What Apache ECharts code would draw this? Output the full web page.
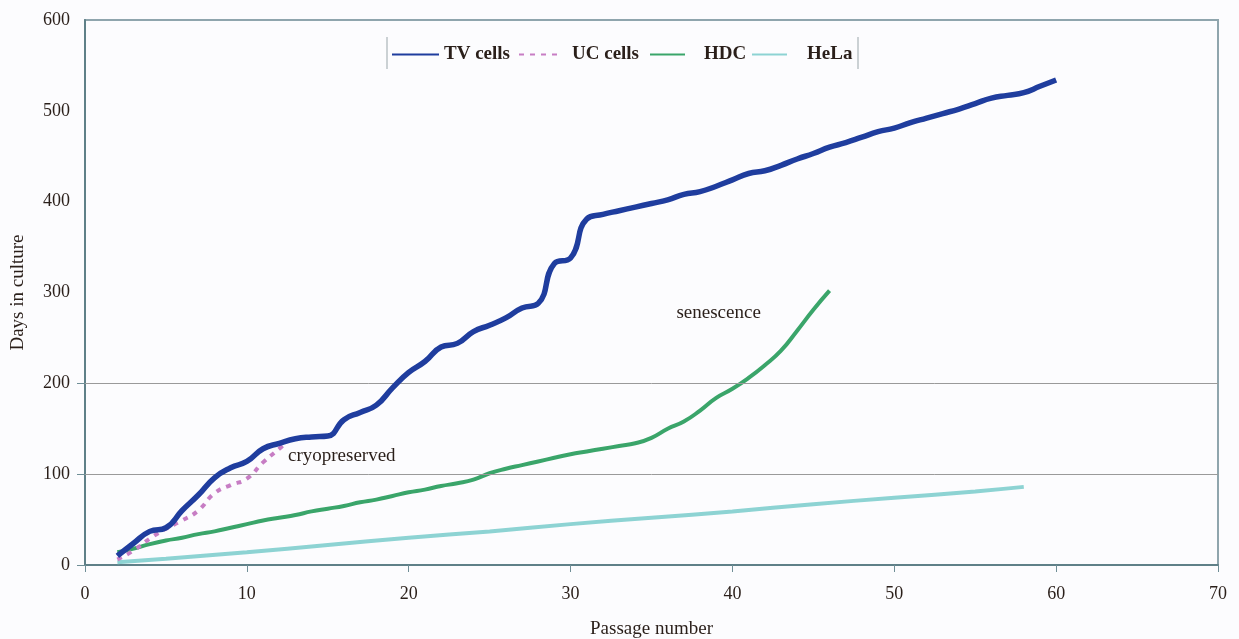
<!DOCTYPE html>
<html>
<head>
<meta charset="utf-8">
<script src="https://cdn.jsdelivr.net/npm/echarts@6/dist/echarts.min.js"></script>
<style>
html,body{margin:0;padding:0;background:#fcfcfe;}
#chart{width:1239px;height:639px;}
</style>
</head>
<body>
<div id="chart"></div>
<script>
const tvPassage = [2,3,4,5,6,7,8,9,10,11,12,13,14,15,16,17,18,19,20,21,22,23,24,25,26,27,28,29,30,31,32,33,34,35,36,37,38,39,40,41,42,43,44,45,46,47,48,49,50,51,52,53,54,55,56,57,58,59,60];
const tvDays = [10,24,37,41,60,77,96,107,114,128,134,139,141,142,160,168,176,195,212,224,240,244,257,264,272,283,288,332,338,381,386,390,394,398,402,408,411,417,424,431,434,440,447,453,460,465,471,477,481,487,492,497,502,508,514,517,520,527,534];
const ucPassage = [2,3,4,5,6,7,8,9,10,11,12,12.3];
const ucDays = [6,16,29,40,49,60,79,88,95,113,128,133];
const hdcPassage = [2,3,4,5,6,7,8,9,10,11,12,13,14,15,16,17,18,19,20,21,22,23,24,25,26,27,28,29,30,31,32,33,34,35,36,37,38,39,40,41,42,43,44,45,46];
const hdcDays = [14,18,23,27,30,34,37,41,45,49,52,55,59,62,65,69,72,76,80,83,87,90,94,101,106,110,114,118,122,125,128,131,134,140,150,158,170,184,194,206,220,236,258,281,302];
const helaPassage = [2,5,10,15,20,25,30,35,40,45,50,55,58];
const helaDays = [3,7,14,22,30,37,45,52,59,67,74,81,86];
const xTicks = [0,10,20,30,40,50,60,70];
const yTicks = [0,100,200,300,400,500,600];
const gridDays = [100,200];
const seriesNames = ['TV cells','UC cells','HDC','HeLa'];

const pair = (xs, ys) => xs.map((x,i)=>[x, ys[i]]);
const serif = '"Liberation Serif","DejaVu Serif",serif';
const txt = '#2a1f1a';

const legendLayout = [
  {left:386, width:47, pad:5},
  {left:513, width:41, pad:12},
  {left:644, width:35, pad:19},
  {left:746, width:35, pad:20}
];
const legends = seriesNames.map((n,i)=>({
  top:40, left:legendLayout[i].left, itemWidth:legendLayout[i].width, itemHeight:6,
  selectedMode:false,
  textStyle:{fontFamily:serif,fontSize:19,color:txt,fontWeight:'bold',padding:[0,0,0,legendLayout[i].pad-5]},
  data:[{name:n,itemStyle:{opacity:0}}]
}));

const chart = echarts.init(document.getElementById('chart'));
chart.setOption({
  backgroundColor:'#fcfcfe',
  animation:false,
  grid:{left:85,right:21,top:20,bottom:74,outerBoundsMode:'none',containLabel:false,show:true,borderColor:'#8fa5ad',borderWidth:2,backgroundColor:'transparent'},
  legend:legends,
  xAxis:{
    type:'value',min:xTicks[0],max:xTicks[xTicks.length-1],interval:10,
    name:'Passage number',nameLocation:'middle',nameGap:55,
    nameTextStyle:{fontFamily:serif,fontSize:19,color:txt},
    axisLine:{show:true,lineStyle:{color:'#5f8088',width:2}},
    axisTick:{show:true,length:7,lineStyle:{color:'#6f8e96'}},
    axisLabel:{fontFamily:serif,fontSize:18,color:txt,margin:20},
    splitLine:{show:false}
  },
  yAxis:{
    type:'value',min:yTicks[0],max:yTicks[yTicks.length-1],interval:100,
    name:'Days in culture',nameLocation:'middle',nameGap:57,
    nameTextStyle:{fontFamily:serif,fontSize:19,color:txt},
    axisLine:{show:true,lineStyle:{color:'#5f8088',width:2}},
    axisTick:{show:true,length:8,customValues:[0].concat(gridDays),lineStyle:{color:'#6f8e96'}},
    axisLabel:{fontFamily:serif,fontSize:18,color:txt,margin:15},
    splitLine:{show:false}
  },
  series:[
    {name:'HeLa',type:'line',data:pair(helaPassage,helaDays),showSymbol:false,smooth:true,
     lineStyle:{color:'#8dd3d3',width:4},itemStyle:{color:'#8dd3d3'},z:2,
     markLine:{silent:true,symbol:'none',label:{show:false},lineStyle:{color:'#9a9a9a',width:1,type:'solid'},
       data:gridDays.map(v=>({yAxis:v}))}},
    {name:'HDC',type:'line',data:pair(hdcPassage,hdcDays),showSymbol:false,smooth:true,
     lineStyle:{color:'#3aa56a',width:4},itemStyle:{color:'#3aa56a'},z:3,
     markPoint:{silent:true,symbol:'rect',symbolSize:1,itemStyle:{color:'transparent'},
       label:{show:true,formatter:'senescence',fontFamily:serif,fontSize:19,color:txt,position:'right'},
       data:[{coord:[36.2,277]}]}},
    {name:'UC cells',type:'line',data:pair(ucPassage,ucDays),showSymbol:false,smooth:true,
     lineStyle:{color:'#c77dc4',width:4,type:[5,6]},itemStyle:{color:'#c77dc4'},z:4},
    {name:'TV cells',type:'line',data:pair(tvPassage,tvDays),showSymbol:false,smooth:true,
     lineStyle:{color:'#1f3d9e',width:5.5},itemStyle:{color:'#1f3d9e'},z:5,
     markPoint:{silent:true,symbol:'rect',symbolSize:1,itemStyle:{color:'transparent'},
       label:{show:true,formatter:'cryopreserved',fontFamily:serif,fontSize:19,color:txt,position:'right'},
       data:[{coord:[12.2,120]}]}}
  ],
  graphic:[
    {type:'line',shape:{x1:387,y1:37,x2:387,y2:69},style:{stroke:'#9aa6aa',lineWidth:1}},
    {type:'line',shape:{x1:858,y1:37,x2:858,y2:69},style:{stroke:'#9aa6aa',lineWidth:1}}
  ]
});
</script>
</body>
</html>
